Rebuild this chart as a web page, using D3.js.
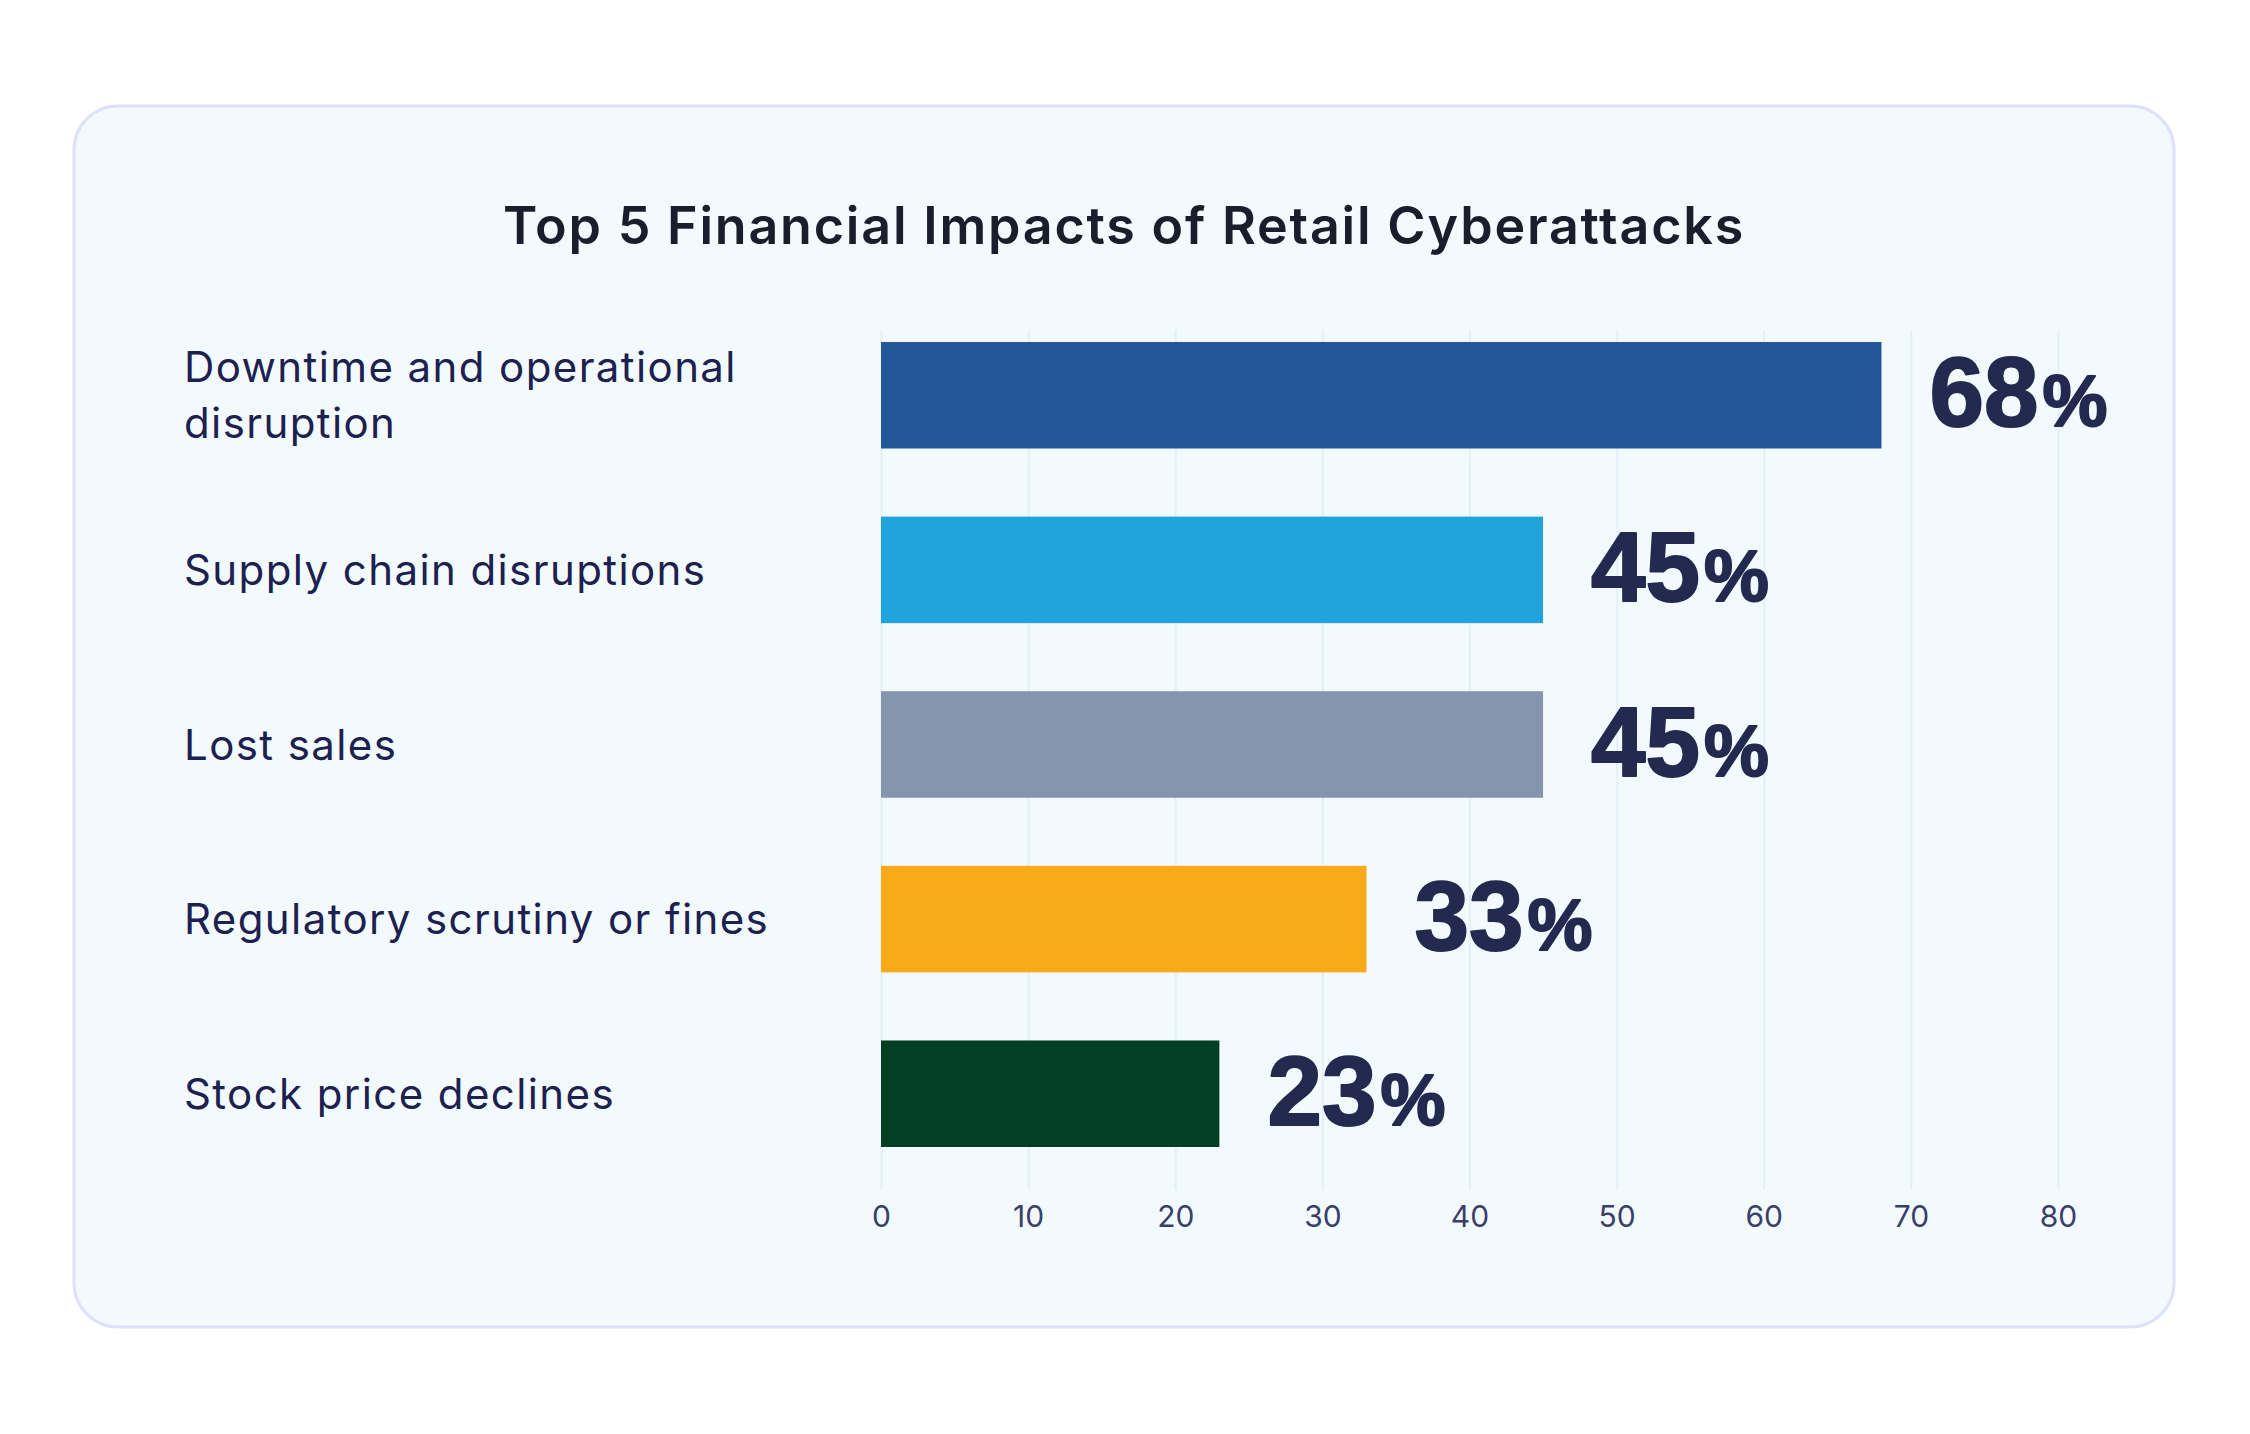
<!DOCTYPE html>
<html>
<head>
<meta charset="utf-8">
<script src="https://cdn.jsdelivr.net/npm/d3@7"></script>
<style>
  html, body { margin: 0; padding: 0; background: #ffffff; }
  #chart { width: 2250px; height: 1434px; }
</style>
</head>
<body>
<div id="chart"></div>
<script>
var title = 'Top 5 Financial Impacts of Retail Cyberattacks';
var categories = [
    'Downtime and operational disruption',
    'Supply chain disruptions',
    'Lost sales',
    'Regulatory scrutiny or fines',
    'Stock price declines'
];
var values = [68, 45, 45, 33, 23];
var barColors = ['#23569a', '#21a3dc', '#8595ab', '#f9aa19', '#033f22'];
var tickValues = [0, 10, 20, 30, 40, 50, 60, 70, 80];

var wrapText = function(textNode, maxWidth) {
    var words = textNode.text().split(' ');
    var lines = [];
    var line = [];
    textNode.text(null);
    var probe = textNode.append('tspan');
    words.forEach(function(w) {
        line.push(w);
        probe.text(line.join(' '));
        if (probe.node().getComputedTextLength() > maxWidth && line.length > 1) {
            line.pop();
            lines.push(line.join(' '));
            line = [w];
        }
    });
    lines.push(line.join(' '));
    probe.remove();
    return lines;
};

function drawChart() {
    var width = 2250, height = 1434;
    var svg = d3.select('#chart').append('svg')
        .attr('width', width)
        .attr('height', height);

    // card
    svg.append('rect')
        .attr('x', 74).attr('y', 106)
        .attr('width', 2100).attr('height', 1221)
        .attr('rx', 44).attr('ry', 44)
        .attr('fill', '#f3fafd')
        .attr('stroke', '#dde2fa')
        .attr('stroke-width', 3);

    svg.append('text')
        .attr('x', 1124).attr('y', 244)
        .attr('text-anchor', 'middle')
        .attr('font-family', 'Inter, "Noto Sans", sans-serif')
        .attr('font-weight', 600)
        .attr('font-size', 52)
        .attr('letter-spacing', 1.8)
        .attr('fill', '#1a1d2b')
        .text(title);

    var x = d3.scaleLinear().domain([0, 80]).range([881, 2058]);
    var y = d3.scaleBand().domain(categories).range([342, 1147])
        .paddingInner(0.39).paddingOuter(0);

    // grid
    var gridTop = 330, gridBottom = 1190;
    svg.append('g')
        .attr('transform', 'translate(0,' + gridBottom + ')')
        .call(d3.axisBottom(x).tickValues(tickValues).tickSize(-(gridBottom - gridTop)).tickFormat(''))
        .call(function(g) {
            g.select('.domain').remove();
            g.selectAll('line').attr('stroke', '#e6eff8').attr('stroke-width', 2);
        });

    // bars
    svg.append('g').selectAll('rect')
        .data(values)
        .enter().append('rect')
        .attr('x', x(0))
        .attr('y', function(d, i) { return y(categories[i]); })
        .attr('width', function(d) { return x(d) - x(0); })
        .attr('height', y.bandwidth())
        .attr('fill', function(d, i) { return barColors[i]; });

    // value labels
    var valLabels = svg.append('g').selectAll('text')
        .data(values)
        .enter().append('text')
        .attr('x', function(d) { return x(d) + 48; })
        .attr('y', function(d, i) { return y(categories[i]) + y.bandwidth() / 2 + 31; })
        .attr('font-family', '"Liberation Sans", Arial, sans-serif')
        .attr('font-weight', 700)
        .attr('fill', '#222a50')
        .attr('stroke', '#222a50')
        .attr('stroke-width', 2)
        .attr('stroke-linejoin', 'round');
    valLabels.append('tspan').attr('font-size', 98).text(function(d) { return d; });
    valLabels.append('tspan').attr('font-size', 73).attr('dx', 4).text('%');

    // category labels
    var lineHeight = 56;
    svg.append('g').selectAll('text')
        .data(categories)
        .enter().append('text')
        .attr('x', 184)
        .attr('font-family', 'Inter, "Noto Sans", sans-serif')
        .attr('font-size', 42)
        .attr('letter-spacing', 1.4)
        .attr('fill', '#1d2150')
        .text(function(d) { return d; })
        .each(function(d) {
            var t = d3.select(this);
            var lines = wrapText(t, 680);
            var cy = y(d) + y.bandwidth() / 2;
            var y0 = cy - (lines.length - 1) * lineHeight / 2 + 15;
            t.attr('y', y0);
            lines.forEach(function(l, i) {
                t.append('tspan').attr('x', 184).attr('y', y0 + i * lineHeight).text(l);
            });
        });

    // x axis
    svg.append('g')
        .attr('transform', 'translate(0,1205)')
        .call(d3.axisBottom(x).tickValues(tickValues).tickSize(0).tickPadding(0))
        .call(function(g) {
            g.select('.domain').remove();
            g.selectAll('text')
                .attr('font-family', 'Inter, "Noto Sans", sans-serif')
                .attr('font-size', 30)
                .attr('fill', '#3a3e6a')
                .attr('dy', '0.72em');
        });
}

document.addEventListener('DOMContentLoaded', drawChart);
</script>
</body>
</html>
